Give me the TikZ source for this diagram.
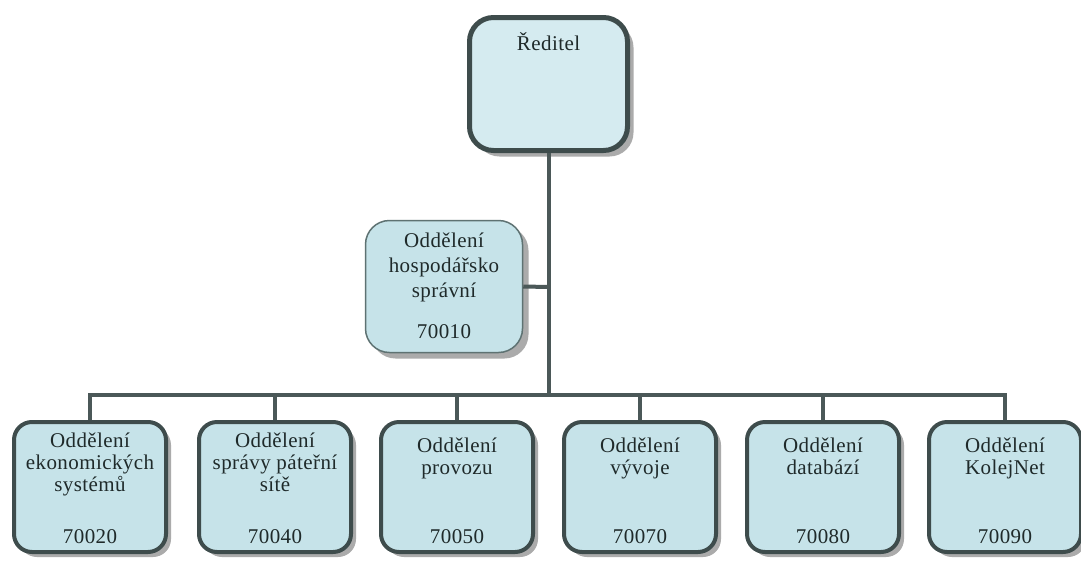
\documentclass[tikz,border=0pt]{standalone}
\usepackage{fontspec}
\setmainfont{Liberation Serif}
\newfontfamily\lblfont[LetterSpace=2]{Liberation Serif}
\usetikzlibrary{shadows}
\definecolor{boxfill}{HTML}{C6E3E9}
\definecolor{topfill}{HTML}{D5EBF0}
\definecolor{border}{HTML}{3E4C4C}
\definecolor{thinborder}{HTML}{5E7272}
\definecolor{conn}{HTML}{4B5858}
\definecolor{txtcol}{HTML}{1F2A2A}
\definecolor{shadowcol}{HTML}{ABABAB}
\tikzset{
  unitbox/.style={draw=border, line width=4pt, fill=boxfill, rounded corners=18pt,
    minimum width=152pt, minimum height=130pt, inner sep=0pt,
    drop shadow={shadow xshift=5pt, shadow yshift=-5pt, fill=shadowcol, opacity=1}},
  headbox/.style={draw=border, line width=5pt, fill=topfill, rounded corners=24pt,
    minimum width=158pt, minimum height=133pt, inner sep=0pt,
    drop shadow={shadow xshift=6pt, shadow yshift=-6pt, fill=shadowcol, opacity=1}},
  staffbox/.style={draw=thinborder, line width=1.5pt, fill=boxfill, rounded corners=24pt,
    minimum width=157pt, minimum height=132pt, inner sep=0pt,
    drop shadow={shadow xshift=6pt, shadow yshift=-6pt, fill=shadowcol, opacity=1}},
  txtlabel/.style={text=txtcol, font=\lblfont\fontsize{21}{22}\selectfont, inner sep=0pt, anchor=base},
  wire/.style={draw=conn, line width=4pt},
}
\begin{document}
\begin{tikzpicture}[x=1pt, y=-1pt]
\useasboundingbox[fill=white] (0,0) rectangle (1081,560);
\coordinate (bus) at (548.5,395);
\coordinate (hsj) at (548.5,287);
\node[headbox] (dir) at (548.5,84) {};
\node[staffbox] (hs) at (444,286.5) {};
\foreach \i/\x in {1/90,2/275,3/457,4/640,5/823,6/1005} {
  \node[unitbox] (u\i) at (\x,487) {};
}
\draw[wire] (dir.south) -- (bus);
\draw[wire] (hs.east) -- (hsj);
\draw[wire] (u1.north) |- (bus) -| (u6.north);
\foreach \i in {2,3,4,5} { \draw[wire] (u\i.north) -- (u\i.north |- bus); }
% texts
\node[txtlabel] (tdir) at (548.5,50) {Ředitel};
\node[txtlabel] (ths) at (444,247) {Oddělení};
\node[txtlabel] (ths2) at (444,272) {hospodářsko};
\node[txtlabel] (ths3) at (444,297) {správní};
\node[txtlabel] (nhs) at (444,338) {70010};
\node[txtlabel] (t1a) at (90,447) {Oddělení};
\node[txtlabel] (t1b) at (90,469) {ekonomických};
\node[txtlabel] (t1c) at (90,491) {systémů};
\node[txtlabel] (t2a) at (275,447) {Oddělení};
\node[txtlabel] (t2b) at (275,469) {správy páteřní};
\node[txtlabel] (t2c) at (275,491) {sítě};
\node[txtlabel] (t3a) at (457,452) {Oddělení};
\node[txtlabel] (t3b) at (457,474) {provozu};
\node[txtlabel] (t4a) at (640,452) {Oddělení};
\node[txtlabel] (t4b) at (640,474) {vývoje};
\node[txtlabel] (t5a) at (823,452) {Oddělení};
\node[txtlabel] (t5b) at (823,474) {databází};
\node[txtlabel] (t6a) at (1005,452) {Oddělení};
\node[txtlabel] (t6b) at (1005,474) {KolejNet};
\foreach \i/\x/\n in {1/90/70020,2/275/70040,3/457/70050,4/640/70070,5/823/70080,6/1005/70090} {
  \node[txtlabel] (n\i) at (\x,543) {\n};
}
\end{tikzpicture}
\end{document}
